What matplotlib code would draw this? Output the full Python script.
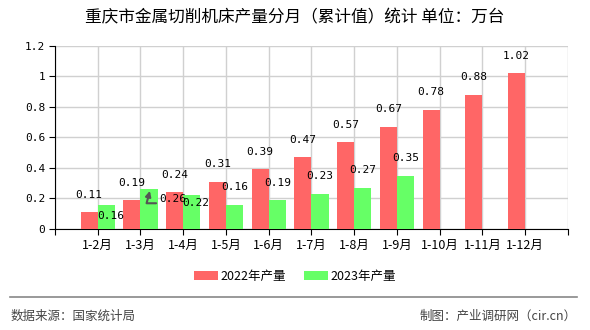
import matplotlib.pyplot as plt
import numpy as np

plt.rcParams['font.family'] = ['Noto Sans CJK SC', 'DejaVu Sans']

months = ['1-2月', '1-3月', '1-4月', '1-5月', '1-6月', '1-7月',
          '1-8月', '1-9月', '1-10月', '1-11月', '1-12月']
prod_2022 = [0.11, 0.19, 0.24, 0.31, 0.39, 0.47, 0.57, 0.67, 0.78, 0.88, 1.02]
prod_2023 = [0.16, 0.26, 0.22, 0.16, 0.19, 0.23, 0.27, 0.35]

red = '#ff6666'
green = '#66ff66'
numfont = ['DejaVu Sans Mono', 'Noto Sans CJK SC']

fig = plt.figure(figsize=(5.9, 3.3), dpi=100)
ax = fig.add_axes([0.0932, 0.306, 0.8695, 0.555])

x = np.arange(1, len(months) + 1)
w = 0.4
ax.bar(x[:len(prod_2022)] - w / 2, prod_2022, w, color=red, label='2022年产量', zorder=3)
ax.bar(x[:len(prod_2023)] + w / 2, prod_2023, w, color=green, label='2023年产量', zorder=3)

# value labels (a few were pushed around in the original to avoid overlap)
for xi, v in zip(x, prod_2022):
    ax.annotate('%g' % v, (xi - w / 2, v), xytext=(0, 9), textcoords='offset points',
                ha='center', va='bottom', fontsize=8, family=numfont, zorder=5)
green_off = {0: (3, -12), 2: (3, -9)}
for i, (xi, v) in enumerate(zip(x, prod_2023)):
    if i == 1:
        # this one got moved aside with a pointer back to its bar
        ax.annotate('%g' % v, xy=(xi + 0.22, v - 0.01), xytext=(xi + 0.43, v - 0.065),
                    ha='left', va='center', fontsize=8, family=numfont, zorder=5,
                    arrowprops=dict(arrowstyle='-|>', color='#555555', lw=1.5, relpos=(0.1, 0.1),
                                    shrinkA=0, shrinkB=0,
                                    connectionstyle='angle,angleA=0,angleB=75,rad=0'))
        continue
    dx, dy = green_off.get(i, (0, 9))
    ax.annotate('%g' % v, (xi + w / 2, v), xytext=(dx, dy), textcoords='offset points',
                ha='center', va='bottom', fontsize=8, family=numfont, zorder=5)

ax.set_xlim(0, 12)
ax.set_ylim(0, 1.2)
ax.set_xticks(np.arange(0, 13))
ax.set_xticklabels([''] + months + [''], fontsize=9)
ax.set_yticks(np.arange(0, 1.21, 0.2))
ax.set_yticklabels(['0', '0.2', '0.4', '0.6', '0.8', '1', '1.2'], fontsize=8, family=numfont)
ax.grid(True, color='#d0d0d0', lw=1, zorder=0)
for s in ['top', 'right']:
    ax.spines[s].set_visible(False)
ax.spines['left'].set_color('black')
ax.spines['bottom'].set_color('black')
ax.tick_params(axis='both', length=4, color='black', pad=3)

fig.text(0.5, 0.945, '重庆市金属切削机床产量分月（累计值）统计 单位：万台', ha='center', va='center', fontsize=12)

fig.legend(loc='center', bbox_to_anchor=(0.5, 0.163), ncol=2, frameon=False, fontsize=9,
           handlelength=1.9, handleheight=0.8, columnspacing=1.5, handletextpad=0.2)

fig.add_artist(plt.Line2D([0.017, 0.978], [0.1, 0.1], color='#888888', lw=1.2))
fig.text(0.017, 0.042, '数据来源：国家统计局', ha='left', va='center', fontsize=9, color='#444444')
fig.text(0.978, 0.042, '制图：产业调研网（cir.cn）', ha='right', va='center', fontsize=9, color='#444444')

fig.savefig('out.png', dpi=100)
